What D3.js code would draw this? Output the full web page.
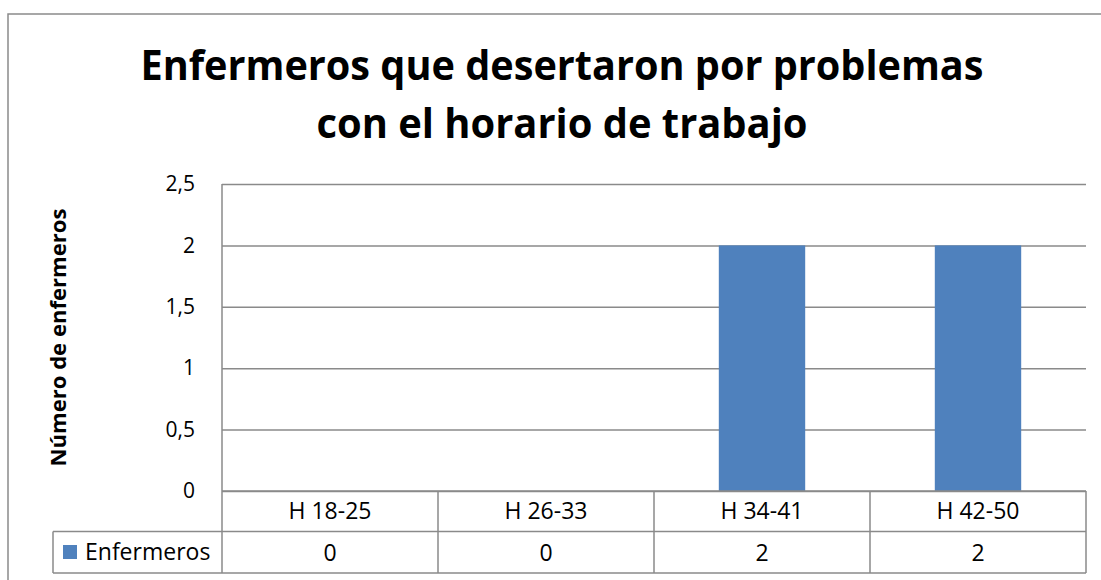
<!DOCTYPE html>
<html>
<head>
<meta charset="utf-8">
<script src="https://cdn.jsdelivr.net/npm/d3@7"></script>
<style>
  html, body { margin: 0; padding: 0; background: #ffffff; }
  svg { display: block; }
  text { font-family: "Open Sans", "Liberation Sans", sans-serif; fill: #000; }
</style>
</head>
<body>
<svg id="chart" width="1101" height="580"></svg>
<script>
// Data
const categories = ["H 18-25", "H 26-33", "H 34-41", "H 42-50"];
const seriesName = "Enfermeros";
const seriesValues = [0, 0, 2, 2];
const yTicks = [0, 0.5, 1, 1.5, 2, 2.5];
const titleLines = ["Enfermeros que desertaron por problemas", "con el horario de trabajo"];
const yAxisTitle = "Número de enfermeros";

// Layout
const W = 1101, H = 580;
const plot = { left: 222, right: 1086, top: 184, bottom: 491 };
const rowH = [491, 531.5, 573];   // table row boundaries
const tableLeft = 53;
const lineColor = "#8a8a8a";
const barColor = "#4f81bd";

const svg = d3.select("#chart");
const esLocale = d3.formatLocale({ decimal: ",", thousands: ".", grouping: [3], currency: ["", "€"] });
const fmt = esLocale.format("~g");

const x = d3.scaleBand().domain(categories).range([plot.left, plot.right]).paddingInner(0).paddingOuter(0);
const y = d3.scaleLinear().domain([0, d3.max(yTicks)]).range([plot.bottom, plot.top]);

// Chart area border
svg.append("rect")
  .attr("x", 8).attr("y", 14).attr("width", 1130).attr("height", 620)
  .attr("fill", "#fff").attr("stroke", lineColor).attr("stroke-width", 1.5);

// Title
const title = svg.append("g");
titleLines.forEach((t, i) => {
  title.append("text")
    .attr("x", 562).attr("y", [80, 138][i])
    .attr("text-anchor", "middle")
    .attr("font-size", 41).attr("font-weight", 700)
    .attr("textLength", [843, 491][i]).attr("lengthAdjust", "spacingAndGlyphs")
    .text(t);
});

// Gridlines
const grid = d3.axisLeft(y).tickValues(yTicks).tickSize(-(plot.right - plot.left)).tickFormat("");
svg.append("g")
  .attr("transform", `translate(${plot.left},0)`)
  .call(grid)
  .call(g => g.select(".domain").remove())
  .call(g => g.selectAll("line").attr("stroke", lineColor).attr("stroke-width", 1.5));

// Y axis labels
const yAxis = d3.axisLeft(y).tickValues(yTicks).tickSize(0).tickPadding(27).tickFormat(fmt);
svg.append("g")
  .attr("transform", `translate(${plot.left},0)`)
  .call(yAxis)
  .call(g => g.select(".domain").remove())
  .call(g => g.selectAll("text")
    .attr("font-family", '"Open Sans", sans-serif')
    .attr("font-size", 21).attr("fill", "#000"));

// Y axis title
svg.append("text")
  .attr("transform", `translate(66,${(plot.top + plot.bottom) / 2}) rotate(-90)`)
  .attr("text-anchor", "middle")
  .attr("font-size", 21).attr("font-weight", 700)
  .attr("textLength", 258).attr("lengthAdjust", "spacingAndGlyphs")
  .text(yAxisTitle);

// Bars
const barW = x.bandwidth() * 0.4;
svg.append("g").selectAll("rect")
  .data(seriesValues)
  .join("rect")
  .attr("x", (d, i) => x(categories[i]) + (x.bandwidth() - barW) / 2)
  .attr("y", d => y(d))
  .attr("width", barW)
  .attr("height", d => y(0) - y(d))
  .attr("fill", barColor);

// Data table
const table = svg.append("g").attr("stroke", lineColor).attr("stroke-width", 1.5);
// vertical axis line through the table
table.append("line").attr("x1", plot.left).attr("x2", plot.left).attr("y1", plot.top).attr("y2", rowH[2]);
// horizontal rules
table.append("line").attr("x1", plot.left).attr("x2", plot.right).attr("y1", rowH[0]).attr("y2", rowH[0]);
table.append("line").attr("x1", tableLeft).attr("x2", plot.right).attr("y1", rowH[1]).attr("y2", rowH[1]);
table.append("line").attr("x1", tableLeft).attr("x2", plot.right).attr("y1", rowH[2]).attr("y2", rowH[2]);
table.append("line").attr("x1", tableLeft).attr("x2", tableLeft).attr("y1", rowH[1]).attr("y2", rowH[2]);
// column separators
categories.forEach(c => {
  const xr = x(c) + x.bandwidth();
  table.append("line").attr("x1", xr).attr("x2", xr).attr("y1", rowH[0]).attr("y2", rowH[2]);
});

// Category labels
svg.append("g").selectAll("text")
  .data(categories)
  .join("text")
  .attr("x", d => x(d) + x.bandwidth() / 2)
  .attr("y", 519)
  .attr("text-anchor", "middle")
  .attr("font-size", 23)
  .text(d => d);

// Series values
svg.append("g").selectAll("text")
  .data(seriesValues)
  .join("text")
  .attr("x", (d, i) => x(categories[i]) + x.bandwidth() / 2)
  .attr("y", 561)
  .attr("text-anchor", "middle")
  .attr("font-size", 23)
  .text(d => fmt(d));

// Legend key in the table
svg.append("rect")
  .attr("x", 63).attr("y", 545).attr("width", 14).attr("height", 14)
  .attr("fill", barColor);
svg.append("text")
  .attr("x", 85).attr("y", 560)
  .attr("font-size", 23)
  .text(seriesName);
</script>
</body>
</html>
